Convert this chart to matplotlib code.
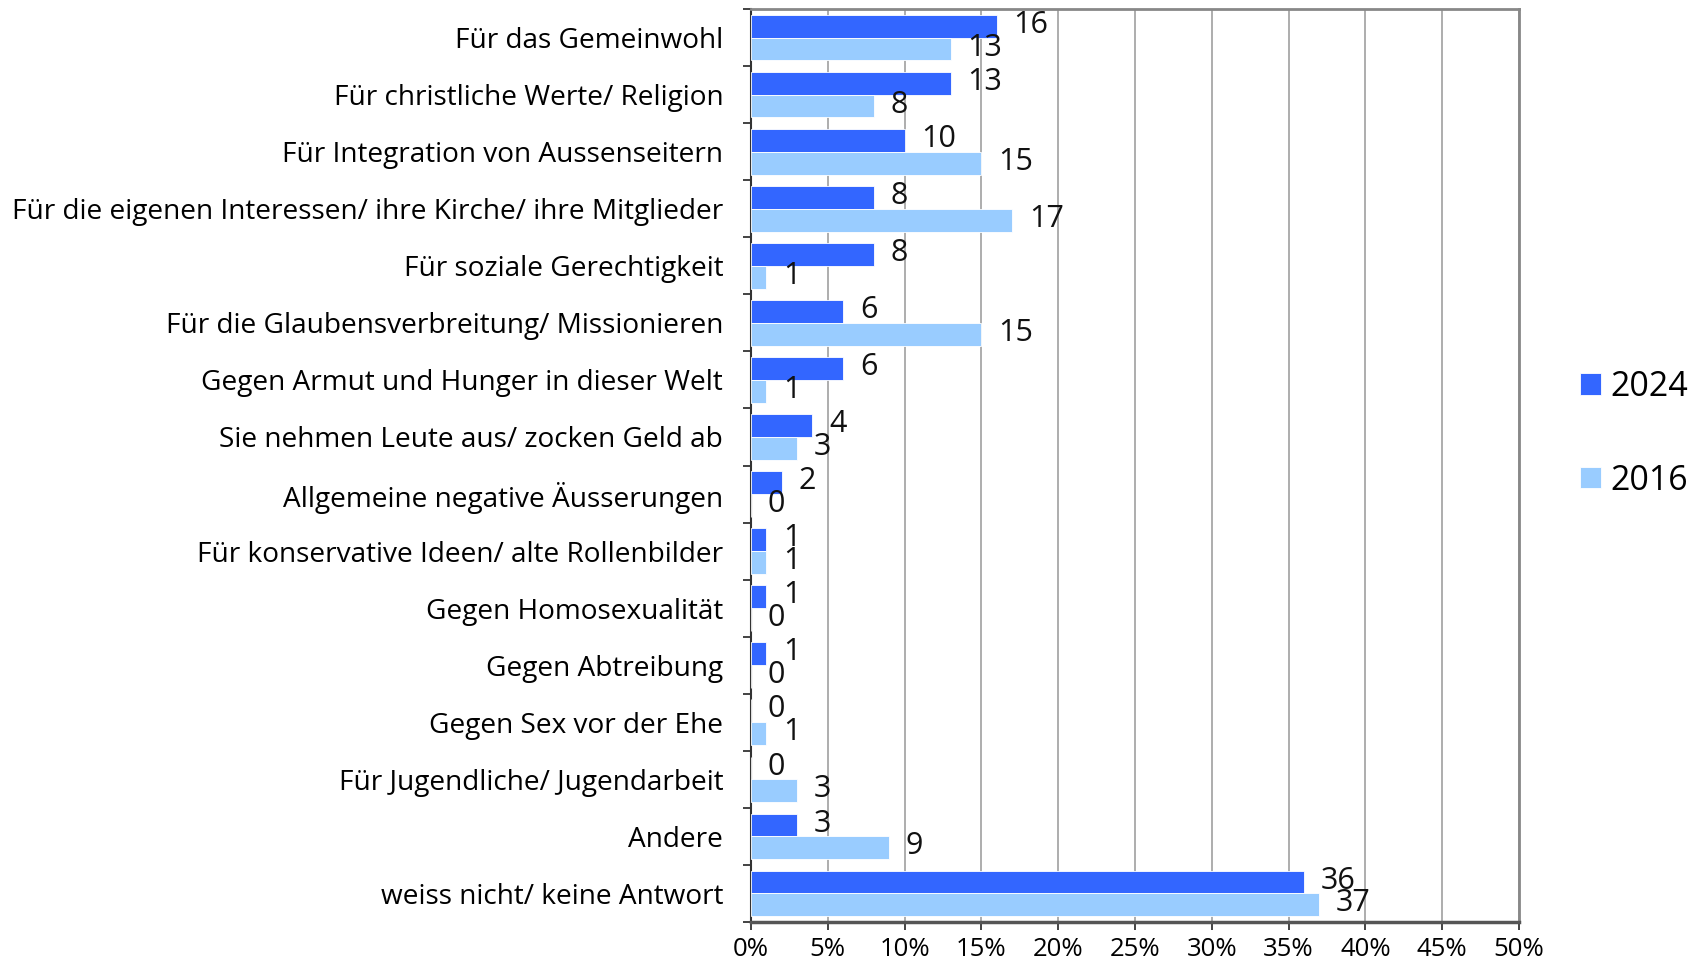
import matplotlib
matplotlib.use("Agg")
import matplotlib.pyplot as plt
import numpy as np
from matplotlib.ticker import FixedLocator

categories = [
    "Für das Gemeinwohl",
    "Für christliche Werte/ Religion",
    "Für Integration von Aussenseitern",
    "Für die eigenen Interessen/ ihre Kirche/ ihre Mitglieder",
    "Für soziale Gerechtigkeit",
    "Für die Glaubensverbreitung/ Missionieren",
    "Gegen Armut und Hunger in dieser Welt",
    "Sie nehmen Leute aus/ zocken Geld ab",
    "Allgemeine negative Äusserungen",
    "Für konservative Ideen/ alte Rollenbilder",
    "Gegen Homosexualität",
    "Gegen Abtreibung",
    "Gegen Sex vor der Ehe",
    "Für Jugendliche/ Jugendarbeit",
    "Andere",
    "weiss nicht/ keine Antwort",
]
values_2024 = [16, 13, 10, 8, 8, 6, 6, 4, 2, 1, 1, 1, 0, 0, 3, 36]
values_2016 = [13, 8, 15, 17, 1, 15, 1, 3, 0, 1, 0, 0, 1, 3, 9, 37]
series_names = ["2024", "2016"]
colors = ["#3366FF", "#99CCFF"]
xticks = [0, 5, 10, 15, 20, 25, 30, 35, 40, 45, 50]

plt.rcParams['font.family'] = ['Open Sans', 'DejaVu Sans']

fig = plt.figure(figsize=(16.99, 9.64), dpi=100)
ax = fig.add_axes([0.442, 0.0436, 0.452, 0.947])

n = len(categories)
y = np.arange(n)
h = 0.4
b1 = ax.barh(y - h/2, values_2024, height=h, color=colors[0], edgecolor="white", linewidth=0.6, label=series_names[0], zorder=3)
b2 = ax.barh(y + h/2, values_2016, height=h, color=colors[1], edgecolor="white", linewidth=0.6, label=series_names[1], zorder=3)

for bars, vals in ((b1, values_2024), (b2, values_2016)):
    for rect, v in zip(bars, vals):
        ax.annotate(str(v), xy=(v, rect.get_y() + rect.get_height()/2),
                    xytext=(12, 1), textcoords="offset points",
                    ha="left", va="center", fontsize=22, color="#111111", zorder=4)

ax.set_xlim(0, 50)
ax.set_ylim(n - 0.5, -0.5)
ax.set_xticks(xticks)
ax.set_xticklabels([f"{t}%" for t in xticks], fontsize=18.5)
ax.set_yticks(y)
ax.set_yticklabels(categories, fontsize=20.2, va="center_baseline")
ax.yaxis.set_minor_locator(FixedLocator(np.arange(-0.5, n, 1.0)))
ax.tick_params(axis="y", which="major", length=0, pad=20)
ax.tick_params(axis="y", which="minor", length=6, width=1.2, color="#222222")
ax.tick_params(axis="x", which="major", length=6, width=1.2, color="#222222", pad=5)

ax.grid(axis="x", color="#A0A0A0", linewidth=1.2, zorder=0)
ax.set_axisbelow(True)
for s in ("top", "right"):
    ax.spines[s].set_color("#888888")
    ax.spines[s].set_linewidth(2)
ax.spines["left"].set_color("#333333")
ax.spines["left"].set_linewidth(1.5)
ax.spines["bottom"].set_color("#555555")
ax.spines["bottom"].set_linewidth(2.5)

fig.legend(handles=[b1, b2], labels=series_names, loc="center left",
           bbox_to_anchor=(0.912, 0.55), frameon=False, fontsize=24.5,
           handlelength=0.6, handleheight=0.6, handletextpad=0.3, labelspacing=1.75)

fig.savefig("out.png", dpi=100)
